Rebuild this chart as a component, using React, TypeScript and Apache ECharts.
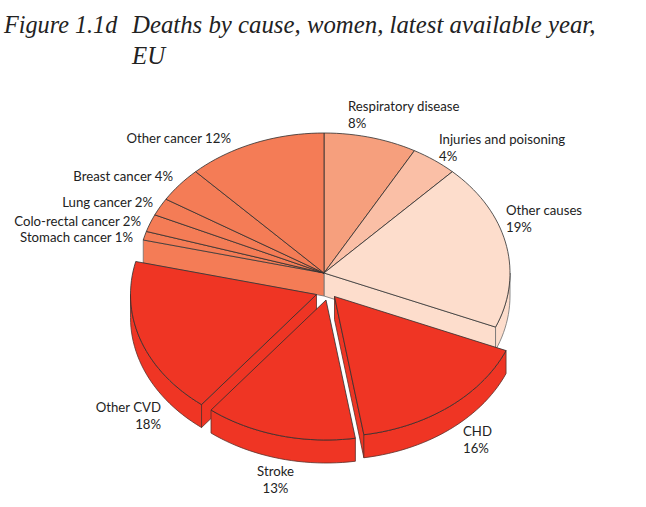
import React, { useEffect, useRef } from "react";
import * as echarts from "echarts";

// clockwise from 12 o'clock
const categories = ["Respiratory disease", "Injuries and poisoning", "Other causes", "CHD", "Stroke", "Other CVD", "Stomach cancer", "Colo-rectal cancer", "Lung cancer", "Breast cancer", "Other cancer"];
const values = [8, 4, 19, 16, 13, 18, 1, 2, 2, 4, 12];
const colors = ["#F69F7D", "#FABFA6", "#FDDDCC", "#EF3524", "#EF3524", "#EF3524", "#F47C56", "#F47C56", "#F47C56", "#F47C56", "#F47C56"];
// explosion offset (px) and stacking layer of each slice
const offsets = [[0, 0], [0, 0], [0, 0], [10.5, 23.5], [2, 27], [-7.5, 21.5], [0, 0], [0, 0], [0, 0], [0, 0], [0, 0]];
const layers = [0, 0, 0, 3, 2, 1, 0, 0, 0, 0, 0];

const CX = 324, CY = 273, RX = 186, RY = 140, DEPTH = 23;
const total = values.reduce((a, b) => a + b, 0);

const pt = (t: number, dx: number, dy: number): number[] => [CX + dx + RX * Math.sin(t), CY + dy - RY * Math.cos(t)];
const arc = (a: number, b: number, dx: number, dy: number) => {
  const n = Math.max(2, Math.ceil(((b - a) / Math.PI) * 90));
  const out: number[][] = [];
  for (let i = 0; i <= n; i++) out.push(pt(a + ((b - a) * i) / n, dx, dy));
  return out;
};

const EDGE = "#2f2f2f";
const WALL = "#6e6e6e";
const WALL_RED = "#5c2f28";

function renderSlice(params: any) {
  const i = params.dataIndex;
  const count = values.length;
  const before = values.slice(0, i).reduce((a, b) => a + b, 0);
  const a = (before / total) * Math.PI * 2;
  const b = ((before + values[i]) / total) * Math.PI * 2;
  const [dx, dy] = offsets[i];
  const z = layers[i] * 2 + 1;
  const fill = colors[i];
  const children: any[] = [];
  const wallStyle = { fill, stroke: layers[i] ? WALL_RED : WALL, lineWidth: 0.8, lineJoin: "round" };
  const apex = [CX + dx, CY + dy];
  const apexLow = [CX + dx, CY + dy + DEPTH];
  // a cut face shows only where it faces the viewer and the neighbouring slice has been pulled away
  const faces: number[] = [];
  if ((layers[i] || layers[(i + count - 1) % count]) && Math.sin(a) < 0) faces.push(a);
  if ((layers[i] || layers[(i + 1) % count]) && Math.sin(b) > 0) faces.push(b);
  for (const t of faces) {
    const p = pt(t, dx, dy);
    const q = pt(t, dx, dy + DEPTH);
    children.push({ type: "polygon", z2: z, shape: { points: [apex, p, q, apexLow] }, style: wallStyle });
  }
  const lo = Math.max(a, Math.PI / 2);
  const hi = Math.min(b, Math.PI * 1.5);
  if (hi > lo) {
    const upper = arc(lo, hi, dx, dy);
    const lower = arc(lo, hi, dx, dy + DEPTH).reverse();
    children.push({ type: "polygon", z2: z, shape: { points: upper.concat(lower) }, style: wallStyle });
  }
  children.push({
    type: "polygon",
    z2: z + 1,
    shape: { points: [apex].concat(arc(a, b, dx, dy)) },
    style: { fill, stroke: EDGE, lineWidth: 0.8, lineJoin: "round" },
  });
  return { type: "group", children };
}

const FONT = "Lato";
const LABEL = "#222222";
const lab = (x: number, y: number, text: string, align: string) => ({
  type: "text",
  x,
  y,
  silent: true,
  style: { text, x: 0, y: 0, fill: LABEL, font: `13.2px ${FONT}`, textAlign: align, textVerticalAlign: "top", lineHeight: 16.5 },
});
const name = (i: number) => categories[i];
const v = (i: number) => `${values[i]}%`;

const labels = [
  lab(348, 98, `${name(0)}\n${v(0)}`, "left"),
  lab(439, 131, `${name(1)}\n${v(1)}`, "left"),
  lab(506, 202, `${name(2)}\n${v(2)}`, "left"),
  lab(463, 423, `${name(3)}\n${v(3)}`, "left"),
  lab(275.5, 463, `${name(4)}\n${v(4)}`, "center"),
  lab(161, 399, `${name(5)}\n${v(5)}`, "right"),
  lab(133, 229, `${name(6)} ${v(6)}`, "right"),
  lab(141, 213, `${name(7)} ${v(7)}`, "right"),
  lab(153, 194, `${name(8)} ${v(8)}`, "right"),
  lab(173, 168, `${name(9)} ${v(9)}`, "right"),
  lab(231, 130, `${name(10)} ${v(10)}`, "right"),
];

const titleTexts = [
  { type: "text", x: 4, y: 12, silent: true, style: { text: "Figure 1.1d", fill: "#222", font: "italic 24.2px 'Liberation Serif'" } },
  { type: "text", x: 132, y: 12, silent: true, style: { text: "Deaths by cause, women, latest available year,", fill: "#222", font: "italic 24.8px 'Liberation Serif'" } },
  { type: "text", x: 132, y: 43, silent: true, style: { text: "EU", fill: "#222", font: "italic 24.8px 'Liberation Serif'" } },
];

export default function App() {
  const ref = useRef<HTMLDivElement>(null);
  useEffect(() => {
    const chart = echarts.init(ref.current!, null, { renderer: "svg" });
    chart.setOption({
      animation: false,
      backgroundColor: "#ffffff",
      graphic: { elements: [...titleTexts, ...labels] },
      series: [
        {
          type: "custom",
          coordinateSystem: "none",
          silent: true,
          renderItem: renderSlice,
          data: categories.map((c, i) => ({ name: c, value: [values[i], i] })),
        },
      ],
    });
    return () => chart.dispose();
  }, []);
  return <div ref={ref} style={{ position: "fixed", left: 0, top: 0, width: 646, height: 507 }} />;
}
